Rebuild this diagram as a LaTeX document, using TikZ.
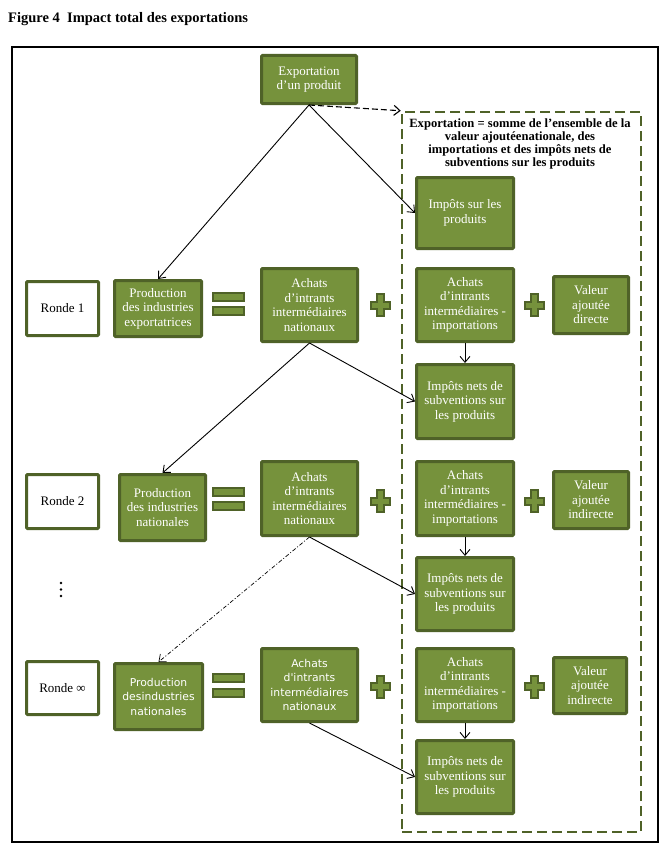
\documentclass[tikz,border=0pt]{standalone}
\usepackage{fontspec}
\setmainfont{Liberation Serif}
\newfontfamily\sansf{DejaVu Sans}
\usetikzlibrary{arrows.meta}
\definecolor{gfill}{HTML}{76923C}
\definecolor{gdark}{HTML}{4F6228}
\tikzset{
  gbox/.style={draw=gdark, line width=3pt, fill=gfill, text=white, align=center, inner sep=0pt,
    rounded corners=1pt, font=\fontsize{13}{14.5}\selectfont},
  wbox/.style={gbox, fill=white, text=black},
  sbox/.style={gbox, font=\sansf\fontsize{10.8}{14.5}\selectfont},
  eqbar/.style={draw=gdark, line width=2pt, fill=gfill, minimum width=31pt, minimum height=8pt, inner sep=0pt},
  plusst/.style={draw=gdark, line width=2pt, fill=gfill, line join=miter},
  arr/.style={draw=black, line width=0.9pt, -{Straight Barb[length=6pt,width=10pt]}},
  dasharr/.style={arr, line width=1.1pt, dash pattern=on 6pt off 3pt},
  dotarr/.style={arr, line width=0.7pt, dash pattern=on 4pt off 2pt on 1pt off 2pt},
}
\newcommand\mkbox[7]{\node[#1, minimum width=#5pt, minimum height=#6pt] (#2) at (#3,#4) {#7};}
\newcommand\mkplus[3]{\draw[plusst, shift={(#2,#3)}] (-3.5,-11)--(3.5,-11)--(3.5,-3.5)--(9.5,-3.5)--(9.5,3.5)--(3.5,3.5)--(3.5,11)--(-3.5,11)--(-3.5,3.5)--(-9.5,3.5)--(-9.5,-3.5)--(-3.5,-3.5)--cycle;}
\begin{document}
\begin{tikzpicture}[x=1pt, y=-1pt]
\useasboundingbox (0,0) rectangle (669,851);
% title
\node[anchor=base west, inner sep=0pt, font=\bfseries\fontsize{14.5}{16}\selectfont] (title) at (8,23) {Figure 4\ \ Impact total des exportations};
% frame
\node[draw=black, line width=1.2pt, minimum width=646pt, minimum height=795pt, inner sep=0pt] (frame) at (335,444.5) {};
% dashed container
\node[draw=gdark, line width=2.5pt, dash pattern=on 10pt off 5pt, minimum width=239pt, minimum height=720pt, inner sep=0pt] (dbox) at (521.5,472) {};
\node[align=center, inner sep=0pt, font=\bfseries\fontsize{12.6}{13}\selectfont] (dtitle) at (520,144)
  {Exportation = somme de l'ensemble de la\\valeur ajoutéenationale, des\\importations et des impôts nets de\\subventions sur les produits};
% top
\mkbox{gbox}{exp}{309}{79.5}{95}{48}{Exportation\\d'un produit}
\mkbox{gbox}{imp0}{465}{213}{97}{71}{Impôts sur les\\produits}
% round 1
\mkbox{wbox}{r1}{62.5}{308.5}{72}{54}{Ronde 1}
\mkbox{gbox}{p1}{158}{308.5}{87}{56}{Production\\des industries\\exportatrices}
\mkbox{gbox}{n1}{309.5}{305}{96}{73}{Achats\\d'intrants\\intermédiaires\\nationaux}
\mkbox{gbox}{i1}{465}{305}{97}{73}{Achats\\d'intrants\\intermédiaires -\\importations}
\mkbox{gbox}{v1}{591}{305}{75}{57}{Valeur\\ajoutée\\directe}
\mkbox{gbox}{t1}{465}{401.5}{97}{74}{Impôts nets de\\subventions sur\\les produits}
\node[eqbar] (e1a) at (228,296.5) {};
\node[eqbar] (e1b) at (228,311) {};
\mkplus{1}{380.5}{305}
\mkplus{1}{534.5}{305}
% round 2
\mkbox{wbox}{r2}{62.5}{501.5}{72}{54}{Ronde 2}
\mkbox{gbox}{p2}{162.5}{507.5}{86}{66}{Production\\des industries\\nationales}
\mkbox{gbox}{n2}{309.5}{498.5}{96}{74}{Achats\\d'intrants\\intermédiaires\\nationaux}
\mkbox{gbox}{i2}{465}{498.5}{97}{74}{Achats\\d'intrants\\intermédiaires -\\importations}
\mkbox{gbox}{v2}{591}{500}{75}{57}{Valeur\\ajoutée\\indirecte}
\mkbox{gbox}{t2}{465}{594}{97}{73}{Impôts nets de\\subventions sur\\les produits}
\node[eqbar] (e2a) at (228,491.5) {};
\node[eqbar] (e2b) at (228,506) {};
\mkplus{2}{380.5}{501}
\mkplus{2}{534.5}{501}
% dots
\fill (61,583) circle (1.4pt) (61,589.5) circle (1.4pt) (61,596) circle (1.4pt);
% round infinity
\mkbox{wbox}{r3}{62.5}{688}{72}{53}{Ronde ∞}
\mkbox{sbox}{p3}{158.5}{696.5}{88}{66}{Production\\desindustries\\nationales}
\mkbox{sbox}{n3}{309.5}{685}{96}{73}{Achats\\d'intrants\\intermédiaires\\nationaux}
\mkbox{gbox}{i3}{465}{685}{97}{73}{Achats\\d'intrants\\intermédiaires -\\importations}
\mkbox{gbox}{v3}{590}{685.5}{73}{56}{Valeur\\ajoutée\\indirecte}
\mkbox{gbox}{t3}{465}{777}{97}{73}{Impôts nets de\\subventions sur\\les produits}
\node[eqbar] (e3a) at (228,678) {};
\node[eqbar] (e3b) at (228,693) {};
\mkplus{3}{380.5}{686.5}
\mkplus{3}{534.5}{686.5}
% connectors
\draw[arr] (exp.south) -- (p1.north);
\draw[arr] (exp.south) -- (imp0.west);
\draw[dasharr] (exp.south) -- (dbox.north west);
\draw[arr] (n1.south) -- (p2.north);
\draw[arr] (n1.south) -- (t1.west);
\draw[arr] (i1.south) -- (t1.north);
\draw[dotarr] (n2.south) -- (p3.north);
\draw[arr] (n2.south) -- (t2.west);
\draw[arr] (i2.south) -- (t2.north);
\draw[arr] (n3.south) -- (t3.west);
\draw[arr] (i3.south) -- (t3.north);
\end{tikzpicture}
\end{document}
